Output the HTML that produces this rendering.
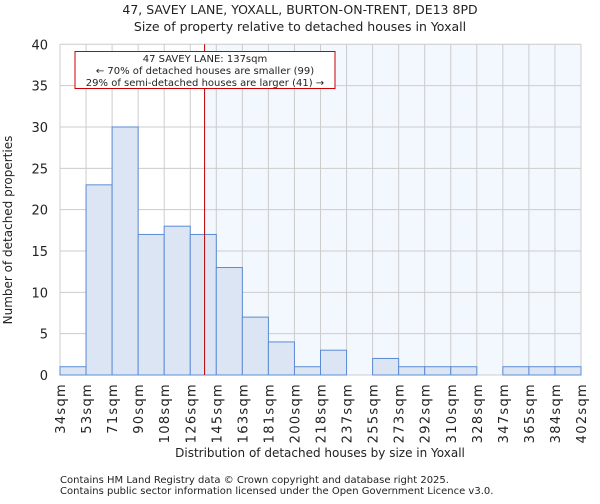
<!DOCTYPE html>
<html><head><meta charset="utf-8"><style>
body{margin:0;background:#fff;font-family:"DejaVu Sans","Liberation Sans",sans-serif;}
svg text{font-family:"DejaVu Sans","Liberation Sans",sans-serif;fill:#222;}
</style></head><body>
<svg id="chart" width="600" height="500" xmlns="http://www.w3.org/2000/svg">
<text x="300" y="14" text-anchor="middle" font-size="12.5">47, SAVEY LANE, YOXALL, BURTON-ON-TRENT, DE13 8PD</text>
<text x="300" y="31" text-anchor="middle" font-size="12.5">Size of property relative to detached houses in Yoxall</text>
<g id="plot"></g>
<text transform="translate(12,230) rotate(-90)" text-anchor="middle" font-size="12">Number of detached properties</text>
<text x="320" y="457" text-anchor="middle" font-size="12">Distribution of detached houses by size in Yoxall</text>
<text x="60" y="483" font-size="10" fill="#444">Contains HM Land Registry data © Crown copyright and database right 2025.</text>
<text x="60" y="494" font-size="10" fill="#444">Contains public sector information licensed under the Open Government Licence v3.0.</text>
</svg>
<script>
const binLabels=["34sqm","53sqm","71sqm","90sqm","108sqm","126sqm","145sqm","163sqm","181sqm","200sqm","218sqm","237sqm","255sqm","273sqm","292sqm","310sqm","328sqm","347sqm","365sqm","384sqm","402sqm"];
const counts=[1,23,30,17,18,17,13,7,4,1,3,0,2,1,1,1,0,1,1,1];
const yTicks=[0,5,10,15,20,25,30,35,40];
const propertyIndex=5.55;
const NS="http://www.w3.org/2000/svg";
const L=60,R=581,T=44.3,B=375,yMax=40;
const n=counts.length, bw=(R-L)/n;
const xs=i=>L+i*bw, ys=v=>B-(v/yMax)*(B-T);
const g=document.getElementById('plot');
function mk(t,a){const e=document.createElementNS(NS,t);for(const k in a)e.setAttribute(k,a[k]);g.appendChild(e);return e;}
const px=xs(propertyIndex);
let bg=mk('rect',{x:px,y:T,width:R-px,height:B-T,fill:'#f3f7fe'});


for(let i=0;i<=n;i++){const l=mk('line',{x1:xs(i),x2:xs(i),y1:T,y2:B,stroke:'#cccccc','stroke-width':1});

}
yTicks.forEach(v=>{const l=mk('line',{x1:L,x2:R,y1:ys(v),y2:ys(v),stroke:'#cccccc','stroke-width':1});


const t=mk('text',{x:L-12,y:ys(v)+5,'text-anchor':'end','font-size':13});t.textContent=v;

});
counts.forEach((c,i)=>{if(c<=0)return;const r=mk('rect',{x:xs(i),y:ys(c),width:bw,height:B-ys(c),fill:'#dce5f4',stroke:'#5b8bd4','stroke-width':1});

});
binLabels.forEach((lab,i)=>{const t=mk('text',{transform:`translate(${xs(i)+5},383) rotate(-90)`,'text-anchor':'end','font-size':13,'letter-spacing':'1.3'});t.textContent=lab;

});
const ml=mk('line',{x1:px,x2:px,y1:T,y2:B,stroke:'#bb0000','stroke-width':1});


const box=mk('rect',{x:75,y:51.5,width:260,height:37,fill:'#fff',stroke:'#cc0000','stroke-width':1});


["47 SAVEY LANE: 137sqm","← 70% of detached houses are smaller (99)","29% of semi-detached houses are larger (41) →"].forEach((s,k)=>{const t=mk('text',{x:205,y:62+k*12,'text-anchor':'middle','font-size':10});t.textContent=s;

});
</script>
</body></html>
